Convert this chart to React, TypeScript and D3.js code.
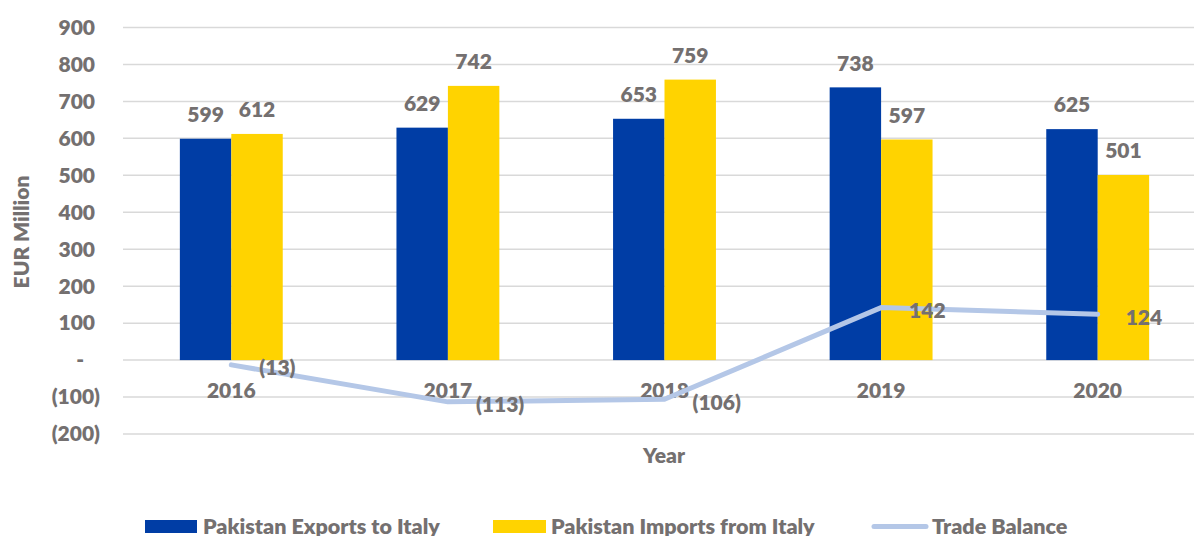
import React from "react";
import * as d3 from "d3";

const years = ["2016", "2017", "2018", "2019", "2020"];
const exportsToItaly = [599, 629, 653, 738, 625];
const importsFromItaly = [612, 742, 759, 597, 501];
const tradeBalance = [-13, -113, -106, 142, 124];
const yTicks = [-200, -100, 0, 100, 200, 300, 400, 500, 600, 700, 800, 900];

const W = 1194;
const H = 536;
const FONT = "Lato, 'Open Sans', sans-serif";
const GREY = "#747070";
const BLUE = "#003DA5";
const YELLOW = "#FFD300";
const LINE = "#B4C7E7";

const fmt = (v: number) => (v === 0 ? "-" : v < 0 ? `(${Math.abs(v)})` : `${v}`);

export default function App() {
  const x0 = d3.scaleBand<string>().domain(years).range([123, 1206]).paddingInner(0.525).paddingOuter(0.2625);
  const x1 = d3.scaleBand<string>().domain(["exp", "imp"]).range([0, x0.bandwidth()]);
  const y = d3.scaleLinear().domain([-200, 900]).range([434, 27.5]);
  const cx = (yr: string) => (x0(yr) as number) + x0.bandwidth() / 2;

  const line = d3
    .line<number>()
    .x((_, i) => cx(years[i]))
    .y((d) => y(d));

  const series = [
    { key: "exp", values: exportsToItaly, color: BLUE },
    { key: "imp", values: importsFromItaly, color: YELLOW },
  ];

  return (
    <svg width={W} height={H} style={{ position: "absolute", left: 0, top: 0 }} fontFamily={FONT} fontWeight={800}>
      <rect width={W} height={H} fill="#fff" />
      {yTicks.map((t) => (
        <g key={t}>
          <line x1={123} x2={W} y1={y(t)} y2={y(t)} stroke="#D9D9D9" strokeWidth={1.5} />
          <text
            x={t < 0 ? 100 : t === 0 ? 84 : 95}
            y={y(t)}
            dy="0.35em"
            textAnchor="end"
            fontSize={21}
            fill={GREY}
          >
            {fmt(t)}
          </text>
        </g>
      ))}
      {series.map((s) =>
        years.map((yr, i) => {
          const bx = (x0(yr) as number) + (x1(s.key) as number);
          const v = s.values[i];
          return (
            <g key={s.key + yr}>
              <rect x={bx} y={y(v)} width={x1.bandwidth()} height={y(0) - y(v)} fill={s.color} />
              <text x={bx + x1.bandwidth() / 2} y={y(v) - 24} dy="0.35em" textAnchor="middle" fontSize={21} fill={GREY}>
                {fmt(v)}
              </text>
            </g>
          );
        })
      )}
      {years.map((yr) => (
        <text key={yr} x={cx(yr)} y={390.5} dy="0.35em" textAnchor="middle" fontSize={21} fill={GREY}>
          {yr}
        </text>
      ))}
      <path d={line(tradeBalance) || ""} fill="none" stroke={LINE} strokeWidth={5} strokeLinecap="round" strokeLinejoin="round" />
      {tradeBalance.map((v, i) => (
        <text key={i} x={cx(years[i]) + 28} y={y(v) + 3} dy="0.35em" textAnchor="start" fontSize={21} fill={GREY}>
          {fmt(v)}
        </text>
      ))}
      <text transform={`translate(22,232) rotate(-90)`} dy="0.35em" textAnchor="middle" fontSize={21} fill={GREY}>
        EUR Million
      </text>
      <text x={664} y={456} dy="0.35em" textAnchor="middle" fontSize={21} fill={GREY}>
        Year
      </text>
      <g fontSize={21.5}>
        <rect x={145} y={520} width={52} height={13} fill={BLUE} />
        <text x={203} y={526} dy="0.35em" fill={GREY}>
          Pakistan Exports to Italy
        </text>
        <rect x={493} y={520} width={53} height={13} fill={YELLOW} />
        <text x={551} y={526} dy="0.35em" fill={GREY}>
          Pakistan Imports from Italy
        </text>
        <line x1={874} x2={926} y1={526.5} y2={526.5} stroke={LINE} strokeWidth={5} strokeLinecap="round" />
        <text x={932} y={526} dy="0.35em" fill={GREY}>
          Trade Balance
        </text>
      </g>
    </svg>
  );
}
